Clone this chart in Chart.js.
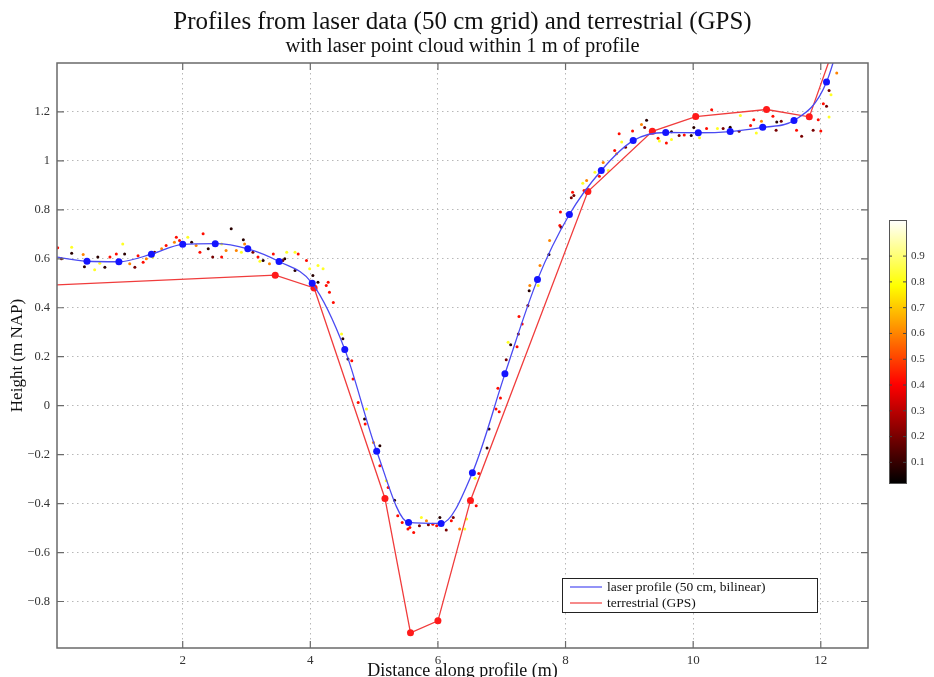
<!DOCTYPE html>
<html>
<head>
<meta charset="utf-8">
<title>Profiles from laser data and terrestrial (GPS)</title>
<script src="https://cdn.jsdelivr.net/npm/chart.js@4.4.1/dist/chart.umd.min.js"></script>
<style>
html, body { margin: 0; padding: 0; background: #fff; }
#wrap { width: 934px; height: 677px; }
</style>
</head>
<body>
<div id="wrap"><canvas id="profileChart" width="934" height="677"></canvas></div>
<script>
// ── Data ──
const laserX = [-0.1, 0.50, 1.00, 1.51, 2.00, 2.51, 3.02, 3.51, 4.03, 4.54, 5.04, 5.54, 6.05, 6.54, 7.05, 7.56, 8.06, 8.56, 9.06, 9.57, 10.08, 10.58, 11.09, 11.58, 12.09, 12.59];
const laserY = [0.612, 0.590, 0.588, 0.619, 0.659, 0.662, 0.641, 0.589, 0.500, 0.230, -0.186, -0.477, -0.481, -0.274, 0.130, 0.515, 0.781, 0.961, 1.083, 1.116, 1.115, 1.120, 1.137, 1.165, 1.322, 1.80];

const gpsX = [-0.3, 3.45, 4.06, 5.17, 5.57, 6.00, 6.51, 8.35, 9.36, 10.04, 11.15, 11.82, 12.35];
const gpsY = [0.490, 0.533, 0.481, -0.379, -0.928, -0.879, -0.387, 0.875, 1.121, 1.181, 1.210, 1.180, 1.57];

// laser point cloud within 1 m of the profile (x, height, colour value)
const cloudX = [0.04, 0.10, 0.26, 0.26, 0.44, 0.46, 0.62, 0.70, 0.67, 0.78, 0.86, 0.96, 1.06, 1.09, 1.17, 1.25, 1.30, 1.38, 1.43, 1.53,
  1.56, 1.67, 1.74, 1.87, 1.90, 1.95, 2.08, 2.14, 2.21, 2.27, 2.32, 2.40, 2.47, 2.61, 2.61, 2.68, 2.76, 2.84, 2.92, 2.95,
  2.97, 3.10, 3.18, 3.21, 3.26, 3.36, 3.42, 3.57, 3.60, 3.63, 3.76, 3.81, 3.76, 3.94, 3.99, 4.04, 4.12, 4.12, 4.20, 4.25,
  4.28, 4.30, 4.36, 4.49, 4.51, 4.59, 4.65, 4.67, 4.75, 4.88, 4.85, 4.86, 4.99, 5.09, 5.09, 5.19, 5.22, 5.32, 5.37, 5.44,
  5.53, 5.56, 5.62, 5.71, 5.74, 5.82, 5.85, 5.92, 5.98, 6.03, 6.13, 6.21, 6.24, 6.34, 6.45, 6.42, 6.60, 6.58, 6.64, 6.77,
  6.80, 6.91, 6.96, 6.98, 6.94, 7.07, 7.10, 7.14, 7.24, 7.26, 7.27, 7.32, 7.41, 7.43, 7.44, 7.57, 7.60, 7.74, 7.75, 7.91,
  7.93, 7.92, 8.09, 8.11, 8.13, 8.27, 8.33, 8.29, 8.46, 8.53, 8.59, 8.67, 8.77, 8.80, 8.88, 8.84, 8.94, 9.05, 9.19, 9.24,
  9.27, 9.45, 9.47, 9.58, 9.66, 9.66, 9.78, 9.86, 9.97, 10.01, 10.10, 10.21, 10.29, 10.38, 10.47, 10.58, 10.72, 10.74, 10.90, 10.95,
  10.99, 11.07, 11.25, 11.31, 11.30, 11.38, 11.62, 11.70, 11.88, 11.96, 12.00, 12.04, 12.09, 12.13, 12.13, 12.16, 12.25];
const cloudY = [0.645, 0.600, 0.623, 0.647, 0.618, 0.568, 0.555, 0.582, 0.607, 0.566, 0.607, 0.620, 0.661, 0.620, 0.580, 0.566, 0.613, 0.586, 0.600, 0.607,
  0.627, 0.641, 0.654, 0.668, 0.688, 0.675, 0.688, 0.668, 0.654, 0.627, 0.702, 0.641, 0.607, 0.607, 0.661, 0.634, 0.723, 0.634, 0.627, 0.678,
  0.661, 0.627, 0.607, 0.590, 0.593, 0.580, 0.620, 0.593, 0.600, 0.627, 0.627, 0.620, 0.552, 0.593, 0.559, 0.532, 0.573, 0.504, 0.559, 0.491,
  0.504, 0.463, 0.422, 0.293, 0.273, 0.191, 0.184, 0.109, 0.013, -0.014, -0.054, -0.075, -0.150, -0.164, -0.245, -0.307, -0.334, -0.386, -0.450, -0.477,
  -0.504, -0.498, -0.518, -0.491, -0.457, -0.470, -0.486, -0.484, -0.491, -0.457, -0.508, -0.470, -0.457, -0.504, -0.463, -0.504, -0.409, -0.296, -0.277, -0.173,
  -0.095, -0.014, -0.025, 0.031, 0.071, 0.188, 0.259, 0.249, 0.241, 0.293, 0.364, 0.334, 0.409, 0.470, 0.491, 0.491, 0.573, 0.618, 0.675, 0.736,
  0.729, 0.791, 0.849, 0.872, 0.859, 0.909, 0.920, 0.879, 0.954, 0.937, 0.993, 0.961, 1.043, 1.029, 1.077, 1.111, 1.056, 1.122, 1.149, 1.136,
  1.166, 1.093, 1.081, 1.073, 1.087, 1.119, 1.104, 1.106, 1.104, 1.136, 1.095, 1.132, 1.209, 1.132, 1.132, 1.138, 1.121, 1.186, 1.145, 1.168,
  1.114, 1.162, 1.182, 1.159, 1.125, 1.162, 1.125, 1.101, 1.125, 1.168, 1.122, 1.234, 1.223, 1.288, 1.179, 1.270, 1.359];
const cloudC = [0.42, 0.2, 0.08, 0.82, 0.6, 0.08, 0.82, 0.82, 0.08, 0.08, 0.42, 0.42, 0.82, 0.08, 0.6, 0.2, 0.42, 0.42, 0.6, 0.82,
  0.2, 0.6, 0.42, 0.6, 0.42, 0.42, 0.82, 0.08, 0.6, 0.42, 0.42, 0.08, 0.2, 0.42, 0.82, 0.6, 0.08, 0.6, 0.82, 0.08,
  0.6, 0.2, 0.42, 0.82, 0.08, 0.6, 0.42, 0.2, 0.08, 0.82, 0.82, 0.42, 0.08, 0.42, 0.82, 0.08, 0.82, 0.08, 0.82, 0.42,
  0.42, 0.42, 0.42, 0.82, 0.08, 0.08, 0.42, 0.42, 0.42, 0.82, 0.08, 0.42, 0.6, 0.08, 0.42, 0.82, 0.42, 0.08, 0.42, 0.42,
  0.42, 0.42, 0.42, 0.2, 0.82, 0.6, 0.2, 0.42, 0.42, 0.08, 0.2, 0.42, 0.2, 0.6, 0.82, 0.82, 0.42, 0.82, 0.42, 0.08,
  0.08, 0.42, 0.42, 0.42, 0.42, 0.2, 0.82, 0.08, 0.42, 0.2, 0.42, 0.42, 0.2, 0.08, 0.6, 0.82, 0.6, 0.08, 0.6, 0.42,
  0.2, 0.42, 0.2, 0.42, 0.2, 0.82, 0.6, 0.42, 0.82, 0.42, 0.6, 0.82, 0.42, 0.6, 0.82, 0.42, 0.2, 0.42, 0.6, 0.2,
  0.08, 0.42, 0.82, 0.42, 0.82, 0.08, 0.2, 0.42, 0.08, 0.08, 0.82, 0.42, 0.42, 0.82, 0.2, 0.08, 0.2, 0.82, 0.42, 0.42,
  0.82, 0.6, 0.42, 0.08, 0.2, 0.2, 0.42, 0.2, 0.2, 0.42, 0.42, 0.42, 0.2, 0.2, 0.82, 0.82, 0.6];

const xTicks = [2, 4, 6, 8, 10, 12];
const yTicks = [-0.8, -0.6, -0.4, -0.2, 0, 0.2, 0.4, 0.6, 0.8, 1, 1.2];
const colorTicks = [0.1, 0.2, 0.3, 0.4, 0.5, 0.6, 0.7, 0.8, 0.9];
const colorMin = 0.02, colorMax = 1.04;

const SERIF = '"Liberation Serif", "DejaVu Serif", serif';

// MATLAB "hot" colormap
function hot(t) {
    t = Math.min(1, Math.max(0, t));
    const r = Math.min(1, t / 0.375);
    const g = Math.min(1, Math.max(0, (t - 0.375) / 0.375));
    const b = Math.min(1, Math.max(0, (t - 0.75) / 0.25));
    return `rgb(${Math.round(r * 255)},${Math.round(g * 255)},${Math.round(b * 255)})`;
}
const norm = v => (v - colorMin) / (colorMax - colorMin);
const fmt = v => v < 0 ? '\u2212' + Math.abs(v) : String(v);

// ── Frame with inward ticks (MATLAB box) ──
const framePlugin = {
    id: 'frame',
    afterDatasetsDraw(chart) {
        const { ctx, chartArea: a, scales } = chart;
        ctx.save();
        ctx.strokeStyle = '#6a6a6a';
        ctx.lineWidth = 1.5;
        ctx.strokeRect(a.left, a.top, a.right - a.left, a.bottom - a.top);
        ctx.lineWidth = 1.2;
        ctx.beginPath();
        xTicks.forEach(v => {
            const px = scales.x.getPixelForValue(v);
            ctx.moveTo(px, a.bottom); ctx.lineTo(px, a.bottom - 7);
            ctx.moveTo(px, a.top); ctx.lineTo(px, a.top + 7);
        });
        yTicks.forEach(v => {
            const py = scales.y.getPixelForValue(v);
            ctx.moveTo(a.left, py); ctx.lineTo(a.left + 7, py);
            ctx.moveTo(a.right, py); ctx.lineTo(a.right - 7, py);
        });
        ctx.stroke();
        ctx.restore();
    }
};

// ── Legend box inside the axes, lower right ──
const legendPlugin = {
    id: 'boxLegend',
    afterDraw(chart) {
        const { ctx, chartArea: a } = chart;
        const bx = a.right - 306, by = a.bottom - 70, bw = 255, bh = 34;
        ctx.save();
        ctx.fillStyle = '#fff';
        ctx.fillRect(bx, by, bw, bh);
        ctx.strokeStyle = '#222';
        ctx.lineWidth = 1;
        ctx.strokeRect(bx + 0.5, by + 0.5, bw, bh);
        ctx.font = `13.5px ${SERIF}`;
        ctx.textBaseline = 'middle';
        chart.data.datasets.filter(d => d.showLine).forEach((d, i) => {
            const cy = by + 9 + i * 16;
            ctx.strokeStyle = d.borderColor;
            ctx.lineWidth = 1.2;
            ctx.beginPath();
            ctx.moveTo(bx + 8, cy); ctx.lineTo(bx + 40, cy);
            ctx.stroke();
            ctx.fillStyle = '#111';
            ctx.fillText(d.label, bx + 45, cy);
        });
        ctx.restore();
    }
};

// ── Colour bar for the point cloud ──
const colorbarPlugin = {
    id: 'colorbar',
    afterDraw(chart) {
        const { ctx, chartArea: a } = chart;
        const x0 = a.right + 21, w = 17, yTop = 220, yBot = 483;
        const grad = ctx.createLinearGradient(0, yBot, 0, yTop);
        for (let i = 0; i <= 32; i++) grad.addColorStop(i / 32, hot(i / 32));
        ctx.save();
        ctx.fillStyle = grad;
        ctx.fillRect(x0, yTop, w, yBot - yTop);
        ctx.strokeStyle = '#555';
        ctx.lineWidth = 1;
        ctx.strokeRect(x0 + 0.5, yTop + 0.5, w, yBot - yTop);
        ctx.font = `11px ${SERIF}`;
        ctx.fillStyle = '#333';
        ctx.textBaseline = 'middle';
        ctx.beginPath();
        colorTicks.forEach(v => {
            const py = yBot - norm(v) * (yBot - yTop);
            ctx.moveTo(x0, py); ctx.lineTo(x0 + 3, py);
            ctx.moveTo(x0 + w, py); ctx.lineTo(x0 + w - 3, py);
            ctx.fillText(String(v), x0 + w + 5, py);
        });
        ctx.strokeStyle = '#444';
        ctx.stroke();
        ctx.restore();
    }
};

const toPts = (xs, ys) => xs.map((x, i) => ({ x, y: ys[i] }));

const ctx = document.getElementById('profileChart').getContext('2d');
new Chart(ctx, {
    type: 'scatter',
    data: {
        datasets: [
            {
                label: 'laser profile (50 cm, bilinear)',
                data: toPts(laserX, laserY),
                showLine: true,
                cubicInterpolationMode: 'monotone',
                borderColor: '#4a4af2',
                borderWidth: 1.3,
                pointBackgroundColor: '#1414ff',
                pointBorderWidth: 0,
                pointRadius: 3.5
            },
            {
                label: 'terrestrial (GPS)',
                data: toPts(gpsX, gpsY),
                showLine: true,
                borderColor: '#f03c3c',
                borderWidth: 1.3,
                pointBackgroundColor: '#ff1a1a',
                pointBorderWidth: 0,
                pointRadius: 3.5
            },
            {
                label: 'laser points',
                data: toPts(cloudX, cloudY),
                showLine: false,
                pointBackgroundColor: cloudC.map(c => hot(norm(c))),
                pointBorderWidth: 0,
                pointRadius: 1.5
            }
        ]
    },
    options: {
        responsive: false,
        animation: false,
        events: [],
        layout: { padding: { right: 9 } },
        plugins: {
            legend: { display: false },
            tooltip: { enabled: false },
            title: {
                display: true,
                text: 'Profiles from laser data (50 cm grid) and terrestrial (GPS)',
                color: '#111',
                font: { family: SERIF, size: 25, weight: 'normal', lineHeight: 1 },
                padding: { top: 10, bottom: 0 }
            },
            subtitle: {
                display: true,
                text: 'with laser point cloud within 1 m of profile',
                color: '#111',
                font: { family: SERIF, size: 20.5, lineHeight: 1 },
                padding: { top: 1, bottom: 6.5 }
            }
        },
        scales: {
            x: {
                type: 'linear',
                min: 0.03,
                max: 12.74,
                afterBuildTicks: axis => { axis.ticks = xTicks.map(v => ({ value: v })); },
                afterFit: s => { s.height = 29; },
                ticks: { color: '#333', font: { family: SERIF, size: 13 }, padding: 5, callback: fmt },
                grid: { color: '#b8b8b8', lineWidth: 1, drawTicks: false },
                border: { display: false, dash: [1.5, 3.5] },
                title: {
                    display: true,
                    text: 'Distance along profile (m)',
                    color: '#111',
                    font: { family: SERIF, size: 18, lineHeight: 1 },
                    padding: { top: 0, bottom: -3 }
                }
            },
            y: {
                min: -0.99,
                max: 1.40,
                afterBuildTicks: axis => { axis.ticks = yTicks.map(v => ({ value: v })); },
                afterFit: s => { s.width = 57; },
                ticks: { color: '#333', font: { family: SERIF, size: 12.5 }, padding: 7, callback: fmt },
                grid: { color: '#b8b8b8', lineWidth: 1, drawTicks: false },
                border: { display: false, dash: [1.5, 3.5] },
                title: {
                    display: true,
                    text: 'Height (m NAP)',
                    color: '#111',
                    font: { family: SERIF, size: 17, lineHeight: 1 },
                    padding: { top: 9, bottom: 0 }
                }
            },
            // empty strip on the right that holds the colour bar
            cbar: {
                position: 'right',
                display: true,
                ticks: { display: false },
                grid: { display: false },
                border: { display: false },
                afterFit: s => { s.width = 57; }
            }
        }
    },
    plugins: [framePlugin, legendPlugin, colorbarPlugin]
});
</script>
</body>
</html>
